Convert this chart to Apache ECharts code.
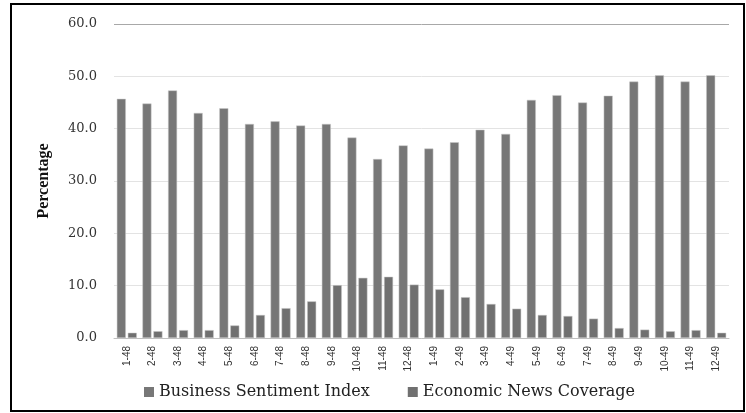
<!DOCTYPE html>
<html>
<head>
<meta charset="UTF-8">
<title>Business Sentiment vs Economic News</title>
<script src="https://cdn.jsdelivr.net/npm/echarts@6/dist/echarts.min.js"></script>
<style>
html,body{margin:0;padding:0;background:#fff;}
#main{width:746px;height:413px;}
</style>
</head>
<body>
<div id="main"></div>
<script type="text/javascript">
var months = ['1-48','2-48','3-48','4-48','5-48','6-48','7-48','8-48','9-48','10-48','11-48','12-48',
	'1-49','2-49','3-49','4-49','5-49','6-49','7-49','8-49','9-49','10-49','11-49','12-49'];
var sentiment = [45.7,44.8,47.3,43.0,43.9,40.9,41.4,40.6,40.9,38.3,34.2,36.8,
	36.2,37.4,39.8,39.0,45.5,46.4,45.0,46.3,49.0,50.2,49.0,50.2];
var newsCoverage = [1.0,1.3,1.5,1.5,2.4,4.4,5.7,7.0,10.1,11.5,11.7,10.2,
	9.3,7.8,6.5,5.6,4.4,4.2,3.7,1.9,1.6,1.3,1.5,1.0];

var myChart = echarts.init(document.getElementById('main'));
var option = {
	animation: false,
	graphic: [{
		type: 'rect',
		shape: {x: 11, y: 4, width: 733, height: 407},
		style: {fill: 'none', stroke: '#000', lineWidth: 2},
		silent: true
	}],
	legend: {
		bottom: 8,
		left: 139,
		icon: 'rect',
		itemWidth: 10,
		itemHeight: 10,
		itemGap: 38,
		itemStyle: {borderWidth: 0},
		textStyle: {fontFamily: 'DejaVu Serif', fontSize: 16, color: '#222'},
		data: ['Business Sentiment Index', 'Economic News Coverage']
	},
	grid: {left: 114, right: 17, top: 24, bottom: 75},
	xAxis: {
		type: 'category',
		data: months,
		axisTick: {show: false},
		axisLine: {lineStyle: {color: '#bfbfbf', width: 1}},
		axisLabel: {
			rotate: 90,
			interval: 0,
			fontFamily: 'Liberation Sans Narrow, Liberation Sans',
			fontSize: 10,
			color: '#333',
			margin: 8
		}
	},
	yAxis: {
		type: 'value',
		min: 0,
		max: 60,
		interval: 10,
		name: 'Percentage',
		nameLocation: 'middle',
		nameGap: 62,
		nameTextStyle: {fontFamily: 'Liberation Serif', fontSize: 16, fontWeight: 'bold', color: '#111'},
		axisLine: {show: false},
		axisTick: {show: false},
		axisLabel: {
			formatter: function (v) { return v.toFixed(1); },
			fontFamily: 'DejaVu Serif',
			fontSize: 13,
			color: '#333',
			margin: 17
		},
		splitLine: {lineStyle: {color: ['#d0d0d0','#e3e3e3','#e3e3e3','#e3e3e3','#e3e3e3','#e3e3e3','#a8a8a8']}}
	},
	series: [{
		name: 'Business Sentiment Index',
		type: 'bar',
		data: sentiment,
		barWidth: 9,
		barGap: '22%',
		itemStyle: {color: '#777777', borderColor: '#c8c8c8', borderWidth: 0.5}
	}, {
		name: 'Economic News Coverage',
		type: 'bar',
		data: newsCoverage,
		barWidth: 9,
		itemStyle: {color: '#707070', borderColor: '#c8c8c8', borderWidth: 0.5}
	}]
};
myChart.setOption(option);
</script>
</body>
</html>
